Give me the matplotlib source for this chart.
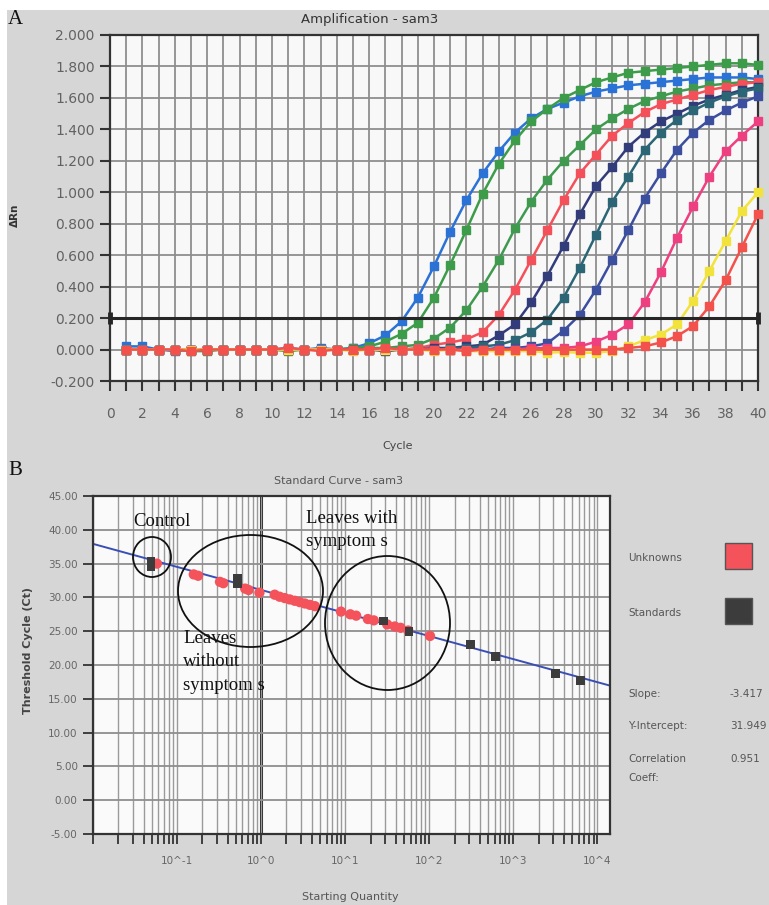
import matplotlib
matplotlib.use('Agg')
import matplotlib.pyplot as plt
from matplotlib.patches import Ellipse, Rectangle
from matplotlib.ticker import FixedLocator, NullFormatter, FixedFormatter

# ---------------- data: panel A (amplification plot) ----------------
cycles = list(range(1, 41))

blue = [0.02, 0.02, 0.00, -0.01, 0.00, 0.00, 0.00, 0.00, 0.00, 0.00,
        0.01, 0.00, 0.01, 0.00, 0.01, 0.04, 0.09, 0.18, 0.33, 0.53,
        0.75, 0.95, 1.12, 1.26, 1.38, 1.47, 1.53, 1.57, 1.61, 1.64,
        1.66, 1.68, 1.69, 1.70, 1.71, 1.72, 1.73, 1.73, 1.73, 1.72]
green1 = [0.00, 0.00, 0.00, 0.00, -0.01, -0.01, 0.00, 0.00, 0.00, 0.00,
          -0.01, 0.00, 0.00, 0.00, 0.01, 0.02, 0.05, 0.10, 0.17, 0.33,
          0.54, 0.76, 0.99, 1.18, 1.33, 1.45, 1.53, 1.60, 1.65, 1.70,
          1.73, 1.76, 1.77, 1.78, 1.79, 1.80, 1.81, 1.82, 1.82, 1.81]
green2 = [0.00, 0.00, 0.00, 0.00, 0.00, 0.00, 0.00, 0.00, 0.00, 0.00,
          0.00, 0.00, 0.00, 0.00, 0.00, 0.01, 0.01, 0.02, 0.03, 0.07,
          0.14, 0.25, 0.40, 0.57, 0.77, 0.94, 1.08, 1.20, 1.30, 1.40,
          1.47, 1.53, 1.58, 1.61, 1.64, 1.66, 1.68, 1.69, 1.70, 1.70]
red1 = [0.00, 0.00, 0.00, 0.00, 0.00, 0.00, 0.00, 0.00, 0.00, 0.00,
        0.00, 0.00, 0.00, 0.00, 0.00, 0.00, 0.00, 0.00, 0.01, 0.03,
        0.045, 0.065, 0.11, 0.22, 0.38, 0.57, 0.76, 0.95, 1.12, 1.24,
        1.36, 1.44, 1.51, 1.56, 1.59, 1.62, 1.65, 1.67, 1.69, 1.70]
navy = [0.00, 0.00, 0.00, 0.00, 0.00, 0.00, 0.00, 0.00, 0.00, 0.00,
        0.00, 0.00, 0.00, 0.00, 0.00, 0.00, -0.01, 0.00, 0.00, 0.01,
        0.01, 0.02, 0.03, 0.09, 0.16, 0.30, 0.47, 0.66, 0.86, 1.04,
        1.16, 1.29, 1.38, 1.45, 1.50, 1.55, 1.59, 1.62, 1.65, 1.67]
teal = [0.00, 0.00, 0.00, 0.00, 0.00, 0.00, 0.00, 0.00, 0.00, 0.00,
        0.00, 0.00, 0.00, 0.00, 0.00, 0.00, 0.00, 0.00, 0.00, 0.00,
        0.01, 0.01, 0.02, 0.03, 0.06, 0.11, 0.19, 0.33, 0.52, 0.73,
        0.94, 1.10, 1.27, 1.38, 1.46, 1.52, 1.57, 1.61, 1.64, 1.66]
violet = [0.00, 0.00, 0.00, 0.00, 0.00, 0.00, 0.00, 0.00, 0.00, 0.00,
          0.00, 0.00, 0.00, 0.00, 0.00, 0.00, 0.00, 0.00, 0.00, 0.00,
          0.00, 0.00, 0.00, 0.01, 0.01, 0.02, 0.04, 0.12, 0.22, 0.38,
          0.57, 0.76, 0.96, 1.12, 1.27, 1.38, 1.46, 1.52, 1.57, 1.61]
pink = [0.00, 0.00, 0.00, 0.00, 0.00, 0.00, 0.00, 0.00, 0.00, 0.00,
        0.00, 0.00, 0.00, 0.00, 0.00, 0.00, 0.00, 0.00, 0.00, 0.00,
        0.00, 0.00, 0.00, 0.00, 0.00, 0.01, 0.01, 0.01, 0.02, 0.05,
        0.095, 0.16, 0.30, 0.49, 0.71, 0.91, 1.10, 1.26, 1.36, 1.45]
yellow = [0.00, 0.00, 0.00, 0.00, 0.00, 0.00, 0.00, 0.00, 0.00, 0.00,
          0.00, 0.00, 0.00, 0.00, -0.01, 0.00, 0.00, 0.00, 0.00, -0.01,
          0.00, -0.01, -0.01, -0.01, -0.01, -0.01, -0.02, -0.015, -0.02, -0.02,
          -0.01, 0.02, 0.06, 0.095, 0.16, 0.31, 0.50, 0.69, 0.88, 1.00]
red2 = [0.00, 0.00, 0.00, 0.00, -0.01, 0.00, 0.00, 0.00, 0.00, 0.00,
        0.01, 0.00, -0.01, 0.00, 0.00, 0.00, 0.01, 0.00, 0.00, 0.00,
        0.00, -0.01, 0.00, 0.00, 0.00, 0.00, 0.00, 0.00, 0.00, 0.00,
        0.00, 0.01, 0.02, 0.045, 0.085, 0.15, 0.275, 0.44, 0.65, 0.86]

curves = [blue, green1, green2, red1, navy, teal, violet, pink, yellow, red2]
curve_colors = ['#2b72d6', '#3c9c4a', '#3f9a50', '#f4505a', '#323c7a',
                '#2c6676', '#3c4e9e', '#ee3f80', '#f2e23c', '#f2514c']
threshold = 0.2
yticksA = [-0.2, 0.0, 0.2, 0.4, 0.6, 0.8, 1.0, 1.2, 1.4, 1.6, 1.8, 2.0]
ytickA_labels = ['-0.200', '0.000', '0.200', '0.400', '0.600', '0.800',
                 '1.000', '1.200', '1.400', '1.600', '1.800', '2.000']

# ---------------- data: panel B (standard curve) ----------------
unk_qty = [0.0575, 0.158, 0.178, 0.324, 0.355, 0.646, 0.708, 0.955, 1.45,
           1.66, 1.91, 2.19, 2.51, 2.88, 3.31, 3.80, 4.37, 8.91, 11.5, 13.5,
           18.6, 21.9, 31.6, 38.9, 45.7, 56.2, 102.0]
unk_ct = [35.0, 33.4, 33.2, 32.3, 32.1, 31.3, 31.1, 30.7, 30.4,
          30.1, 29.9, 29.7, 29.5, 29.3, 29.1, 28.9, 28.7, 27.9, 27.5, 27.3,
          26.8, 26.6, 26.0, 25.7, 25.5, 25.1, 24.3]
std_qty = [0.049, 0.049, 0.525, 0.525, 28.8, 57.5, 309.0, 617.0, 3162.0, 6310.0]
std_ct = [35.4, 34.5, 32.8, 32.0, 26.5, 24.9, 23.0, 21.2, 18.8, 17.7]
fit_slope = -3.41
fit_intercept = 31.1
yticksB = [-5, 0, 5, 10, 15, 20, 25, 30, 35, 40, 45]
ytickB_labels = ['-5.00', '0.00', '5.00', '10.00', '15.00', '20.00',
                 '25.00', '30.00', '35.00', '40.00', '45.00']
xtickB = [1e-2, 1e-1, 1e0, 1e1, 1e2, 1e3, 1e4]
xtickB_labels = ['', '10^-1', '10^0', '10^1', '10^2', '10^3', '10^4']
xfit_log = [-2.0, 4.15]

# ---------------- figure ----------------
W, H = 769, 905
fig = plt.figure(figsize=(W / 100, H / 100), dpi=100, facecolor='#d6d6d6')


def fx(x):
    return x / W


def fy(y):
    return 1 - y / H


# white margins (top and left)
fig.add_artist(Rectangle((0, fy(10)), 1, 10 / H, transform=fig.transFigure,
                         facecolor='white', edgecolor='none', zorder=-5))
fig.add_artist(Rectangle((0, 0), 7 / W, 1, transform=fig.transFigure,
                         facecolor='white', edgecolor='none', zorder=-5))

serif = ['Liberation Serif', 'DejaVu Serif']
tick_grey = '#626262'

# ======== Panel A ========
ax1 = fig.add_axes([fx(110), fy(381), (758 - 110) / W, (381 - 35) / H])
ax1.set_facecolor('#f8f8f8')
ax1.set_xlim(0, 40)
ax1.set_ylim(-0.2, 2.0)
ax1.xaxis.set_major_locator(FixedLocator(list(range(0, 41, 2))))
ax1.xaxis.set_minor_locator(FixedLocator(list(range(1, 40, 2))))
ax1.yaxis.set_major_locator(FixedLocator(yticksA))
ax1.yaxis.set_major_formatter(FixedFormatter(ytickA_labels))
ax1.grid(True, which='both', axis='x', color='#8e8e8e', lw=1.3, zorder=0)
ax1.grid(True, which='major', axis='y', color='#8e8e8e', lw=1.3, zorder=0)
ax1.tick_params(axis='x', which='both', direction='out', length=7, width=1.5,
                color='#333333', labelsize=10, labelcolor=tick_grey, pad=12)
ax1.tick_params(axis='y', which='major', direction='out', length=7, width=1.5,
                color='#333333', labelsize=10, labelcolor=tick_grey, pad=4)
for s in ax1.spines.values():
    s.set_color('#333333')
    s.set_linewidth(1.6)

for vals, col in zip(curves, curve_colors):
    ax1.plot(cycles, vals, color=col, lw=1.8, marker='s', ms=5.5,
             mec=col, mfc=col, zorder=3, clip_on=False)

ax1.plot([0, 40], [threshold, threshold], color='#262626', lw=2.2, zorder=4,
         solid_capstyle='butt')
ax1.plot([0, 40], [threshold, threshold], ls='none', marker='|', ms=9, mew=3.5,
         color='#262626', zorder=5, clip_on=False)

fig.text(fx(370), fy(20), 'Amplification - sam3', ha='center', va='center',
         fontsize=9.5, color='#333333')
fig.text(fx(398), fy(446), 'Cycle', ha='center', va='center', fontsize=8,
         color='#444444')
fig.text(fx(15), fy(215), '\u0394Rn', ha='center', va='center', fontsize=7.5,
         fontweight='bold', color='#333333', rotation=90)
fig.text(fx(8), fy(19), 'A', ha='left', va='center', fontsize=15,
         family=serif, color='#111111')

# ======== Panel B ========
ax2 = fig.add_axes([fx(93), fy(834), (610 - 93) / W, (834 - 496) / H])
ax2.set_facecolor('#fafafa')
ax2.set_xscale('log')
ax2.set_xlim(10 ** xfit_log[0], 10 ** xfit_log[1])
ax2.set_ylim(-5, 45)
ax2.xaxis.set_major_locator(FixedLocator(xtickB))
ax2.xaxis.set_major_formatter(FixedFormatter(xtickB_labels))
minor_pos = [m * 10.0 ** e for e in range(-2, 5) for m in range(2, 10)
             if m * 10.0 ** e < 10 ** 4.15]
ax2.xaxis.set_minor_locator(FixedLocator(minor_pos))
ax2.xaxis.set_minor_formatter(NullFormatter())
ax2.yaxis.set_major_locator(FixedLocator(yticksB))
ax2.yaxis.set_major_formatter(FixedFormatter(ytickB_labels))
ax2.grid(True, which='both', axis='x', color='#9a9a9a', lw=1.0, zorder=0)
ax2.grid(True, which='major', axis='y', color='#8e8e8e', lw=1.3, zorder=0)
ax2.tick_params(axis='x', which='both', direction='out', length=7, width=1.3,
                color='#333333', labelsize=7.5, labelcolor='#666666', pad=9)
ax2.tick_params(axis='y', which='major', direction='out', length=7, width=1.3,
                color='#333333', labelsize=7.5, labelcolor='#666666', pad=4)
for s in ax2.spines.values():
    s.set_color('#333333')
    s.set_linewidth(1.6)

ax2.axvline(1.0, color='#222222', lw=2.2, zorder=1)
ax2.plot([10 ** v for v in xfit_log],
         [fit_intercept + fit_slope * v for v in xfit_log],
         color='#3a4fb5', lw=1.4, zorder=2)
ax2.scatter(unk_qty, unk_ct, s=55, color='#f4535c', edgecolors='none',
            zorder=3)
ax2.scatter(std_qty, std_ct, s=40, marker='s', color='#3c3c3c',
            edgecolors='none', zorder=4)


# annotation ellipses (axes fraction)
def ell(cx, cy, rx, ry):
    e = Ellipse(((cx - 93) / 517, 1 - (cy - 496) / 338), 2 * rx / 517,
                2 * ry / 338, transform=ax2.transAxes, fill=False,
                edgecolor='#111111', lw=1.3, zorder=6, clip_on=False)
    ax2.add_patch(e)


ell(152, 557, 19, 20)
ell(250.5, 591, 72.5, 56)
ell(387.5, 623, 62.5, 67)

ann_fs = 13.5
fig.text(fx(133), fy(521), 'Control', ha='left', va='center', fontsize=ann_fs,
         family=serif, color='#111111')
fig.text(fx(306), fy(518), 'Leaves with', ha='left', va='center',
         fontsize=ann_fs, family=serif, color='#111111')
fig.text(fx(306), fy(541), 'symptom s', ha='left', va='center',
         fontsize=ann_fs, family=serif, color='#111111')
fig.text(fx(183), fy(638), 'Leaves', ha='left', va='center', fontsize=ann_fs,
         family=serif, color='#111111')
fig.text(fx(183), fy(661), 'without', ha='left', va='center', fontsize=ann_fs,
         family=serif, color='#111111')
fig.text(fx(183), fy(685), 'symptom s', ha='left', va='center',
         fontsize=ann_fs, family=serif, color='#111111')

fig.text(fx(338), fy(481), 'Standard Curve - sam3', ha='center', va='center',
         fontsize=8, color='#555555')
fig.text(fx(350), fy(897), 'Starting Quantity', ha='center', va='center',
         fontsize=8, color='#555555')
fig.text(fx(28), fy(650), 'Threshold Cycle (Ct)', ha='center', va='center',
         fontsize=8, color='#444444', rotation=90, fontweight='bold')
fig.text(fx(8), fy(470), 'B', ha='left', va='center', fontsize=15,
         family=serif, color='#111111')

# legend / stats at right
fig.text(fx(628), fy(558), 'Unknowns', ha='left', va='center', fontsize=7.5,
         color='#555555')
fig.text(fx(628), fy(613), 'Standards', ha='left', va='center', fontsize=7.5,
         color='#555555')
fig.add_artist(Rectangle((fx(725), fy(569)), 27 / W, 26 / H,
                         transform=fig.transFigure, facecolor='#f4535c',
                         edgecolor='#555555', lw=1))
fig.add_artist(Rectangle((fx(725), fy(624)), 27 / W, 26 / H,
                         transform=fig.transFigure, facecolor='#3c3c3c',
                         edgecolor='#555555', lw=1))
fig.text(fx(628), fy(694), 'Slope:', ha='left', va='center', fontsize=7.5,
         color='#555555')
fig.text(fx(730), fy(694), '-3.417', ha='left', va='center', fontsize=7.5,
         color='#555555')
fig.text(fx(628), fy(726), 'Y-Intercept:', ha='left', va='center',
         fontsize=7.5, color='#555555')
fig.text(fx(730), fy(726), '31.949', ha='left', va='center', fontsize=7.5,
         color='#555555')
fig.text(fx(628), fy(759), 'Correlation', ha='left', va='center',
         fontsize=7.5, color='#555555')
fig.text(fx(628), fy(778), 'Coeff:', ha='left', va='center', fontsize=7.5,
         color='#555555')
fig.text(fx(730), fy(759), '0.951', ha='left', va='center', fontsize=7.5,
         color='#555555')

fig.savefig('out.png', dpi=100, facecolor=fig.get_facecolor())
